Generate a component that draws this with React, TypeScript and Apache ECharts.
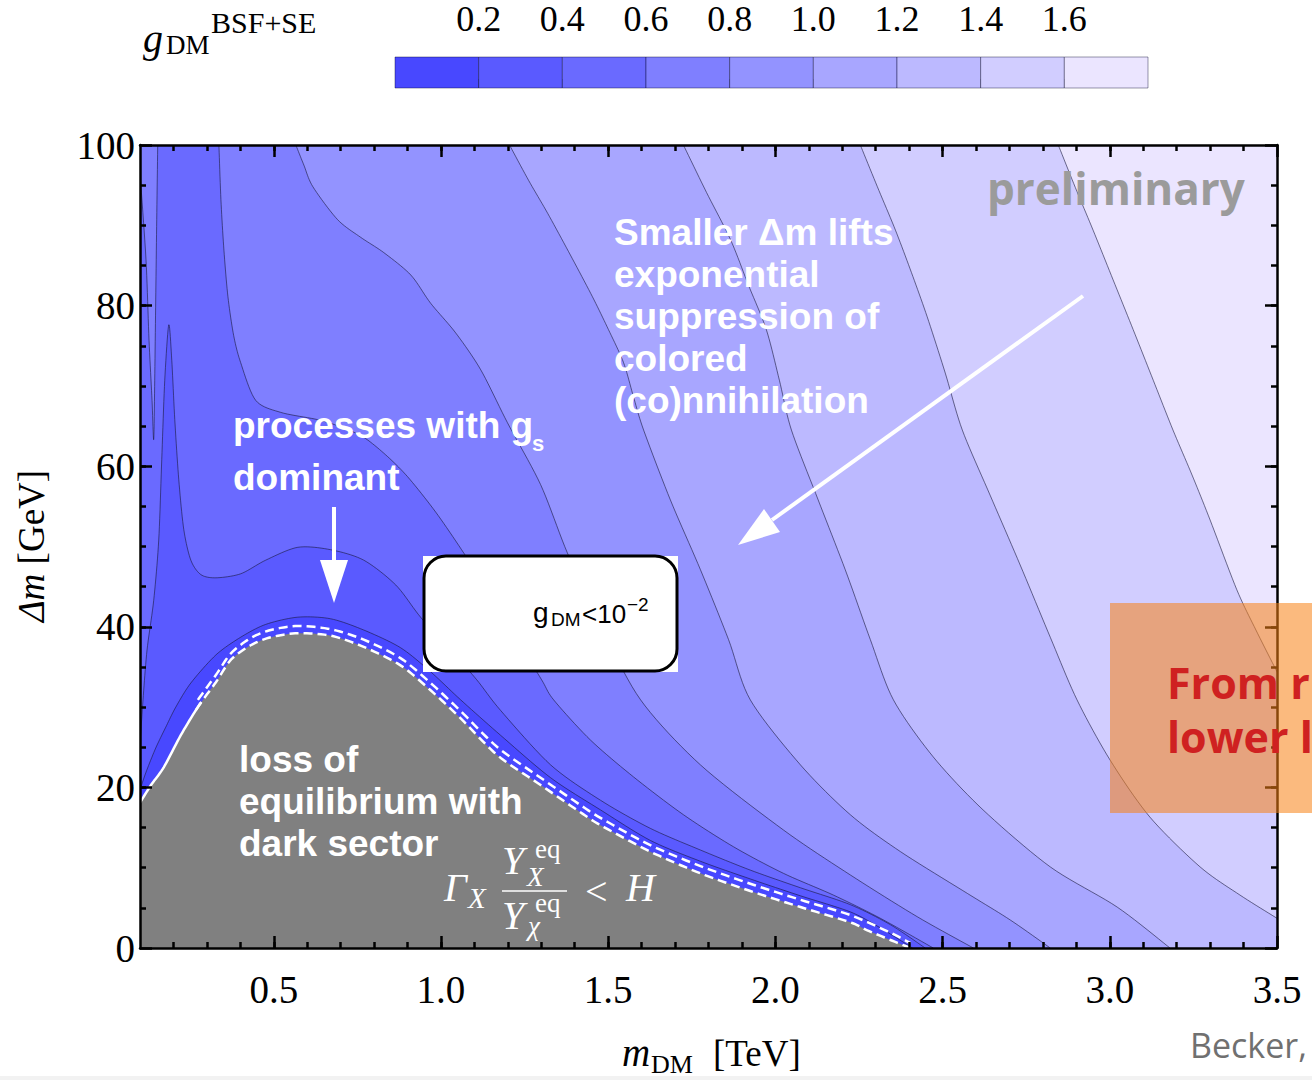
import React, { useEffect, useRef } from "react";
import * as echarts from "echarts";

// Plot ranges: dark-matter mass in TeV, mass splitting in GeV
const X_MIN = 0.1;
const X_MAX = 3.5;
const Y_MIN = 0;
const Y_MAX = 100;

// g_DM contour levels and the fill of each band between consecutive levels
const levelEdges = [0, 0.2, 0.4, 0.6, 0.8, 1.0, 1.2, 1.4, 1.6, 1.8];
const bandColors = [
  "#4848ff",
  "#5a5aff",
  "#6a6aff",
  "#7f7fff",
  "#9393ff",
  "#a8a6ff",
  "#bcb9ff",
  "#d1cdff",
  "#ebe5ff",
];
const colorbarTicks = [0.2, 0.4, 0.6, 0.8, 1.0, 1.2, 1.4, 1.6];
const xMajorTicks = [0.5, 1.0, 1.5, 2.0, 2.5, 3.0, 3.5];
const yMajorTicks = [0, 20, 40, 60, 80, 100];

// Contour lines, points as [m_DM (TeV), Δm (GeV)]
const contour16 = [
  [2.846, 100], [2.897, 94.7], [2.95, 89.4], [3.01, 83.2], [3.07, 77.0], [3.13, 70.7],
  [3.189, 64.5], [3.246, 58.9], [3.3, 53.3], [3.38, 44.6], [3.437, 39.6], [3.5, 34.4],
];
const contour14 = [
  [2.254, 100], [2.305, 94.8], [2.359, 89.4], [2.407, 84.1], [2.454, 78.6], [2.508, 71.6],
  [2.559, 64.5], [2.642, 56.4], [2.732, 47.7], [2.822, 38.7], [2.902, 30.9], [3.001, 23.4],
  [3.12, 16.3], [3.27, 10.1], [3.389, 6.6], [3.5, 3.7],
];
const contour12 = [
  [1.725, 100], [1.794, 94.1], [1.866, 88.2], [1.919, 82.6], [1.973, 77.0], [2.012, 70.7],
  [2.048, 64.5], [2.128, 55.8], [2.209, 47.1], [2.284, 38.4], [2.353, 30.9], [2.472, 23.8],
  [2.621, 17.2], [2.822, 10.1], [3.022, 5.1], [3.18, 0],
];
const contour10 = [
  [1.205, 100], [1.262, 95.6], [1.319, 91.5], [1.387, 86.3], [1.453, 81.1], [1.501, 77.0],
  [1.546, 72.9], [1.576, 68.6], [1.606, 64.5], [1.686, 55.8], [1.776, 47.1], [1.86, 38.4],
  [1.925, 30.9], [2.075, 22.8], [2.224, 16.6], [2.374, 12.0], [2.574, 6.8], [2.702, 3.5],
  [2.822, 0],
];
const contour08 = [
  [0.566, 100], [0.59, 97.5], [0.617, 94.8], [0.691, 90.7], [0.76, 88.5], [0.829, 86.6],
  [0.91, 83.8], [0.969, 80.3], [1.044, 76.6], [1.119, 72.0], [1.199, 65.4], [1.298, 57.7],
  [1.378, 49.2], [1.477, 40.2], [1.597, 30.9], [1.776, 22.8], [2.024, 14.7], [2.224, 9.1],
  [2.424, 3.9], [2.592, 0],
];
const contour06Spike = [
  [0.1, 96.5], [0.118, 85.7], [0.127, 75.7], [0.136, 68.2], [0.141, 63.3], [0.144, 70.7],
  [0.147, 80.7], [0.15, 90.7], [0.153, 100],
];
const contour06 = [
  [0.336, 100], [0.342, 93.2], [0.351, 86.9], [0.363, 81.1], [0.38, 76.3], [0.401, 72.9],
  [0.446, 68.2], [0.521, 66.7], [0.631, 65.8], [0.7, 64.9], [0.769, 63.6], [0.835, 61.4],
  [0.9, 58.7], [0.984, 54.3], [1.068, 49.2], [1.148, 44.0], [1.223, 38.7], [1.301, 33.4],
  [1.337, 30.9], [1.447, 25.9], [1.576, 21.3], [1.725, 16.6], [1.875, 12.6], [2.024, 9.3],
  [2.173, 6.6], [2.314, 3.7], [2.472, 0],
];
const contour04 = [
  [0.1, 25.3], [0.109, 30.9], [0.121, 37.1], [0.141, 43.3], [0.156, 50.8], [0.165, 60.8],
  [0.174, 70.7], [0.186, 77.6], [0.195, 73.2], [0.204, 65.8], [0.216, 58.3], [0.231, 52.1],
  [0.252, 48.3], [0.282, 46.5], [0.327, 46.1], [0.401, 46.6], [0.476, 48.3], [0.572, 49.9],
  [0.67, 49.6], [0.769, 48.3], [0.865, 45.2], [0.939, 41.2], [1.029, 37.1], [1.107, 33.4],
  [1.178, 29.6], [1.328, 22.8], [1.477, 18.4], [1.626, 14.9], [1.776, 12.2], [1.925, 9.7],
  [2.075, 7.5], [2.224, 5.4], [2.344, 2.9], [2.448, 0],
];
const contour02 = [
  [0.1, 19.7], [0.118, 21.9], [0.147, 24.9], [0.177, 27.5], [0.207, 30.0], [0.252, 33.0],
  [0.327, 36.5], [0.401, 38.7], [0.476, 40.3], [0.572, 41.2], [0.67, 41.0], [0.769, 39.6],
  [0.879, 37.4], [0.969, 34.4], [1.059, 30.9], [1.178, 26.5], [1.328, 21.2], [1.477, 17.2],
  [1.626, 13.4], [1.776, 10.8], [1.925, 8.6], [2.075, 6.5], [2.224, 4.5], [2.314, 2.5],
  [2.41, 0],
];

// Boundary of the region where equilibrium with the dark sector is lost
const equilibriumEdge = [
  [0.1, 18.1], [0.133, 20.3], [0.171, 22.5], [0.222, 26.5], [0.273, 30.0], [0.327, 33.1],
  [0.372, 35.9], [0.431, 37.7], [0.491, 38.7], [0.572, 39.2], [0.67, 38.9], [0.769, 37.5],
  [0.879, 35.2], [0.969, 32.1], [1.059, 28.6], [1.169, 24.0], [1.298, 20.3], [1.417, 16.9],
  [1.477, 15.3], [1.626, 12.0], [1.776, 9.3], [1.925, 7.1], [2.075, 5.1], [2.224, 3.2],
  [2.275, 2.2], [2.344, 1.0], [2.404, 0],
];
const equilibriumEdgeOuter = [
  [0.273, 30.9], [0.327, 34.0], [0.372, 36.7], [0.431, 38.6], [0.491, 39.6], [0.572, 40.1],
  [0.67, 39.7], [0.769, 38.4], [0.879, 36.1], [0.969, 33.0], [1.059, 29.5], [1.169, 25.0],
  [1.298, 21.2], [1.417, 17.8], [1.477, 16.2], [1.626, 12.8], [1.776, 10.2], [1.925, 8.0],
  [2.075, 6.0], [2.224, 4.1], [2.344, 1.9], [2.404, 0.6],
];
const solidEdgeEnd = 0.28; // the boundary is drawn solid up to this mass, dashed beyond

// Regions g_DM < level, painted from the highest level down
const contourRegions = [
  { level: 1.6, segments: [contour16] },
  { level: 1.4, segments: [contour14] },
  { level: 1.2, segments: [contour12] },
  { level: 1.0, segments: [contour10] },
  { level: 0.8, segments: [contour08] },
  { level: 0.6, segments: [contour06Spike, contour06] },
  { level: 0.4, segments: [contour04] },
  { level: 0.2, segments: [contour02] },
];

const xMinorTicks: number[] = [];
for (let i = 2; i <= 34; i++) xMinorTicks.push(i / 10);
const yMinorTicks: number[] = [];
for (let v = 5; v < 100; v += 5) yMinorTicks.push(v);

const SERIF = "'Liberation Serif', 'DejaVu Serif', serif";
const SANS = "'Liberation Sans', Arial, sans-serif";
const OPEN = "'Open Sans', 'Noto Sans', sans-serif";

// Cardinal-spline rendering of a polyline given in pixel coordinates
function smoothPixels(px: number[][], steps = 10, tension = 0.15): number[][] {
  if (px.length < 3) return px;
  const k = (1 - tension) / 2;
  const out: number[][] = [];
  for (let i = 0; i < px.length - 1; i++) {
    const p0 = px[i - 1] || px[i];
    const p1 = px[i];
    const p2 = px[i + 1];
    const p3 = px[i + 2] || px[i + 1];
    const m1 = [k * (p2[0] - p0[0]), k * (p2[1] - p0[1])];
    const m2 = [k * (p3[0] - p1[0]), k * (p3[1] - p1[1])];
    for (let s = 0; s < steps; s++) {
      const t = s / steps;
      const t2 = t * t;
      const t3 = t2 * t;
      const h00 = 2 * t3 - 3 * t2 + 1;
      const h10 = t3 - 2 * t2 + t;
      const h01 = -2 * t3 + 3 * t2;
      const h11 = t3 - t2;
      out.push([
        h00 * p1[0] + h10 * m1[0] + h01 * p2[0] + h11 * m2[0],
        h00 * p1[1] + h10 * m1[1] + h01 * p2[1] + h11 * m2[1],
      ]);
    }
  }
  out.push(px[px.length - 1]);
  return out;
}

function closingCorners(first: number[], last: number[]) {
  const closing: number[][] = [];
  if (last[0] >= X_MAX - 1e-9) closing.push([X_MAX, Y_MIN]);
  closing.push([X_MIN, Y_MIN]);
  if (first[1] >= Y_MAX - 1e-9) closing.push([X_MIN, Y_MAX]);
  return closing;
}

function txt(text: string, x: number, y: number, size: number, family: string, extra: any = {}) {
  return {
    type: "text",
    x,
    y,
    z: 100,
    silent: true,
    style: {
      text,
      fontSize: size,
      fontFamily: family,
      fill: "#000",
      align: "left",
      verticalAlign: "middle",
      ...extra,
    },
  };
}

function buildOption(): any {
  const frame = { color: "#000", width: 2.5 };
  const mainX = (position: string, major: boolean, labels: boolean) => ({
    gridIndex: 0,
    type: "value",
    min: X_MIN,
    max: X_MAX,
    position,
    z: 10,
    axisLine: { show: major, onZero: false, lineStyle: frame },
    axisTick: {
      show: true,
      inside: true,
      length: major ? 12 : 6,
      customValues: major ? xMajorTicks : xMinorTicks,
      lineStyle: frame,
    },
    axisLabel: labels
      ? {
          show: true,
          customValues: xMajorTicks,
          formatter: (v: number) => v.toFixed(1),
          fontFamily: SERIF,
          fontSize: 39,
          color: "#000",
          margin: 22,
        }
      : { show: false },
    splitLine: { show: false },
  });
  const mainY = (position: string, major: boolean, labels: boolean) => ({
    gridIndex: 0,
    type: "value",
    min: Y_MIN,
    max: Y_MAX,
    position,
    z: 10,
    axisLine: { show: major, onZero: false, lineStyle: frame },
    axisTick: {
      show: true,
      inside: true,
      length: major ? 12 : 6,
      customValues: major ? yMajorTicks : yMinorTicks,
      lineStyle: frame,
    },
    axisLabel: labels
      ? {
          show: true,
          customValues: yMajorTicks,
          fontFamily: SERIF,
          fontSize: 39,
          color: "#000",
          margin: 5,
        }
      : { show: false },
    splitLine: { show: false },
  });

  const white = { fill: "#fff", fontWeight: "bold" };
  const whiteMath = { fill: "#fff", fontStyle: "italic" };
  const tight = (size: number) => ({ lineHeight: Math.round(size * 0.8) });

  return {
    animation: false,
    grid: [
      { left: 140, top: 145, width: 1137, height: 803, show: true, backgroundColor: bandColors[8], borderWidth: 0 },
      { left: 395, top: 57, width: 753, height: 31, show: false },
    ],
    xAxis: [
      mainX("bottom", true, true),
      mainX("bottom", false, false),
      mainX("top", true, false),
      mainX("top", false, false),
      {
        gridIndex: 1,
        type: "value",
        min: levelEdges[0],
        max: levelEdges[levelEdges.length - 1],
        position: "top",
        axisLine: { show: false },
        axisTick: { show: true, inside: false, length: 9, customValues: colorbarTicks, lineStyle: { color: "#888", width: 1 } },
        axisLabel: {
          show: true,
          customValues: colorbarTicks,
          formatter: (v: number) => v.toFixed(1),
          fontFamily: SERIF,
          fontSize: 36,
          lineHeight: 32,
          color: "#000",
          margin: 22,
        },
        splitLine: { show: false },
      },
    ],
    yAxis: [
      mainY("left", true, true),
      mainY("left", false, false),
      mainY("right", true, false),
      mainY("right", false, false),
      { gridIndex: 1, type: "value", min: 0, max: 1, show: false },
    ],
    series: [
      {
        type: "custom",
        name: "g_DM contours",
        xAxisIndex: 0,
        yAxisIndex: 0,
        clip: true,
        silent: true,
        z: 2,
        data: contourRegions.map((r, i) => [i]),
        renderItem: (params: any, api: any) => {
          const region = contourRegions[params.dataIndex];
          const band = Math.round(region.level / 0.2) - 1;
          const curves = region.segments.map((seg) => smoothPixels(seg.map((p) => api.coord(p))));
          const firstSeg = region.segments[0];
          const lastSeg = region.segments[region.segments.length - 1];
          const corners = closingCorners(firstSeg[0], lastSeg[lastSeg.length - 1]).map((p) => api.coord(p));
          const poly = ([] as number[][]).concat(...curves, corners);
          const children: any[] = [
            { type: "polygon", shape: { points: poly }, style: { fill: bandColors[band], stroke: "none" } },
          ];
          curves.forEach((c) => {
            children.push({
              type: "polyline",
              shape: { points: c },
              style: { stroke: "rgba(25,25,60,0.6)", lineWidth: 1, fill: "none" },
            });
          });
          return { type: "group", children };
        },
      },
      {
        type: "custom",
        name: "loss of equilibrium",
        xAxisIndex: 0,
        yAxisIndex: 0,
        clip: true,
        silent: true,
        z: 3,
        data: [[0]],
        renderItem: (params: any, api: any) => {
          const edge = smoothPixels(equilibriumEdge.map((p) => api.coord(p)));
          const solidLimit = api.coord([solidEdgeEnd, 0])[0];
          const outer = smoothPixels(equilibriumEdgeOuter.map((p) => api.coord(p)));
          const solidPart = edge.filter((p) => p[0] <= solidLimit + 1);
          const dashedPart = edge.filter((p) => p[0] >= solidLimit - 4);
          const dashStyle = { stroke: "#fff", lineWidth: 2.5, fill: "none", lineDash: [9, 5] };
          return {
            type: "group",
            children: [
              {
                type: "polygon",
                shape: { points: edge.concat([api.coord([X_MIN, Y_MIN])]) },
                style: { fill: "#808080", stroke: "none" },
              },
              { type: "polyline", shape: { points: solidPart }, style: { stroke: "#fff", lineWidth: 2.5, fill: "none" } },
              { type: "polyline", shape: { points: dashedPart }, style: dashStyle },
              { type: "polyline", shape: { points: outer }, style: dashStyle },
            ],
          };
        },
      },
      {
        type: "custom",
        name: "colour bar",
        xAxisIndex: 4,
        yAxisIndex: 4,
        silent: true,
        data: bandColors.map((c, i) => [levelEdges[i], levelEdges[i + 1]]),
        renderItem: (params: any, api: any) => {
          const a = api.coord([api.value(0), 1]);
          const b = api.coord([api.value(1), 0]);
          return {
            type: "rect",
            shape: { x: a[0], y: a[1], width: b[0] - a[0], height: b[1] - a[1] },
            style: { fill: bandColors[params.dataIndex], stroke: "rgba(0,0,40,0.4)", lineWidth: 1 },
          };
        },
      },
    ],
    graphic: {
      elements: [
        // colour bar title g_DM^{BSF+SE}
        txt("g", 143, 38, 40, SERIF, { fontStyle: "italic" }),
        txt("DM", 166, 45, 27, SERIF),
        txt("BSF+SE", 211, 22, 30, SERIF),

        // axis titles
        {
          type: "text",
          x: 31,
          y: 546,
          z: 100,
          rotation: Math.PI / 2,
          silent: true,
          style: {
            text: "{i|Δm} [GeV]",
            rich: { i: { fontStyle: "italic", fontFamily: SERIF, fontSize: 37, fill: "#000" } },
            fontFamily: SERIF,
            fontSize: 37,
            fill: "#000",
            align: "center",
            verticalAlign: "middle",
          },
        },
        txt("m", 622, 1052, 39, SERIF, { fontStyle: "italic" }),
        txt("DM", 651, 1064, 26, SERIF),
        txt("[TeV]", 713, 1053, 37, SERIF),

        // watermark
        txt("preliminary", 987, 188, 44, OPEN, { fill: "#9b9b9b", fontWeight: "bold" }),

        // annotations
        txt("Smaller Δm lifts", 614, 232, 37, SANS, white),
        txt("exponential", 614, 274, 37, SANS, white),
        txt("suppression of", 614, 316, 37, SANS, white),
        txt("colored", 614, 358, 37, SANS, white),
        txt("(co)nnihilation", 614, 400, 37, SANS, white),

        txt("processes with g", 233, 425, 37, SANS, white),
        txt("s", 532, 443, 22, SANS, white),
        txt("dominant", 233, 477, 37, SANS, white),

        txt("loss of", 239, 759, 37, SANS, white),
        txt("equilibrium with", 239, 801, 37, SANS, white),
        txt("dark sector", 239, 843, 37, SANS, white),

        // Γ_X Y_X^eq / Y_χ^eq < H
        txt("Γ", 444, 887, 40, SERIF, { ...whiteMath, ...tight(40) }),
        txt("X", 468, 898, 29, SERIF, { ...whiteMath, ...tight(29) }),
        txt("Y", 502, 860, 40, SERIF, { ...whiteMath, ...tight(40) }),
        txt("eq", 535, 849, 27, SERIF, { fill: "#fff", ...tight(22) }),
        txt("X", 527, 877, 27, SERIF, { ...whiteMath, ...tight(22) }),
        { type: "line", z: 100, silent: true, shape: { x1: 502, y1: 891, x2: 567, y2: 891 }, style: { stroke: "#fff", lineWidth: 1.5 } },
        txt("Y", 502, 915, 40, SERIF, { ...whiteMath, ...tight(40) }),
        txt("eq", 535, 903, 27, SERIF, { fill: "#fff", ...tight(22) }),
        txt("χ", 528, 926, 27, SERIF, { ...whiteMath, ...tight(22) }),
        txt("<", 585, 891, 40, SERIF, { fill: "#fff", ...tight(40) }),
        txt("H", 626, 887, 40, SERIF, { ...whiteMath, ...tight(40) }),

        // arrows
        { type: "line", z: 100, silent: true, shape: { x1: 334, y1: 507, x2: 334, y2: 565 }, style: { stroke: "#fff", lineWidth: 4 } },
        { type: "polygon", z: 100, silent: true, shape: { points: [[320, 560], [348, 560], [334, 603]] }, style: { fill: "#fff" } },
        { type: "line", z: 100, silent: true, shape: { x1: 1083, y1: 296, x2: 772, y2: 520 }, style: { stroke: "#fff", lineWidth: 4 } },
        { type: "polygon", z: 100, silent: true, shape: { points: [[780, 532], [764, 509], [738, 545]] }, style: { fill: "#fff" } },

        // g_DM < 10^-2 box
        { type: "rect", z: 100, silent: true, shape: { x: 423, y: 556, width: 255, height: 116 }, style: { fill: "#fff" } },
        { type: "rect", z: 100, silent: true, shape: { x: 424, y: 556, width: 253, height: 115, r: 22 }, style: { fill: "#fff", stroke: "#000", lineWidth: 3 } },
        txt("g", 533, 612, 28, SANS),
        txt("DM", 551, 619, 19, SANS),
        txt("<10", 582, 614, 26, SANS),
        txt("−2", 627, 604, 19, SANS),

        // overlaid note
        { type: "rect", z: 100, silent: true, shape: { x: 1110, y: 603, width: 220, height: 210 }, style: { fill: "rgba(248,130,20,0.55)" } },
        txt("From r", 1167, 682, 43, OPEN, { fill: "#cf2121", fontWeight: "bold" }),
        txt("lower l", 1167, 736, 43, OPEN, { fill: "#cf2121", fontWeight: "bold" }),
        txt("Becker,", 1190, 1045, 34, OPEN, { fill: "#707070" }),
        { type: "rect", z: 100, silent: true, shape: { x: 0, y: 1076, width: 1312, height: 4 }, style: { fill: "#f2f2f2" } },
      ],
    },
  };
}

export default function App() {
  const ref = useRef<HTMLDivElement>(null);
  useEffect(() => {
    if (!ref.current) return;
    const chart = echarts.init(ref.current, null, { renderer: "svg" });
    chart.setOption(buildOption());
    return () => chart.dispose();
  }, []);
  return (
    <div
      ref={ref}
      style={{ position: "fixed", left: 0, top: 0, width: 1312, height: 1080, background: "#fff" }}
    />
  );
}
